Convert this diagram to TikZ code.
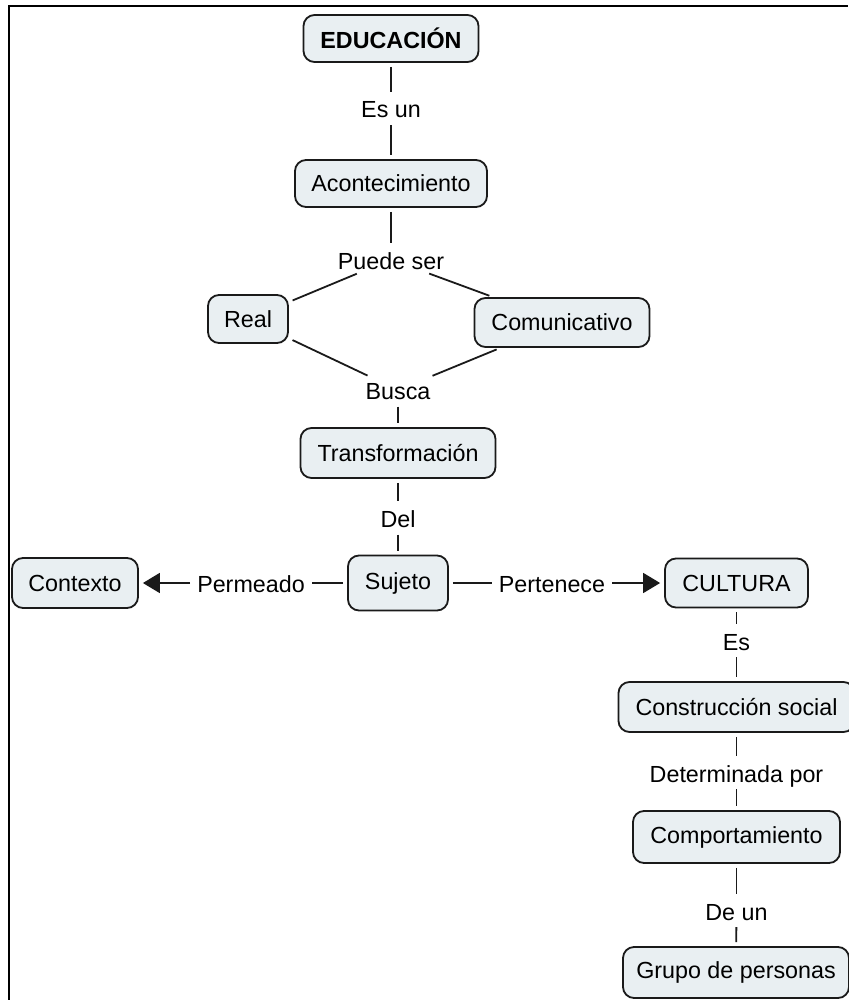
\documentclass[tikz,border=0pt]{standalone}
\usepackage{fontspec}
\setmainfont{Liberation Sans}
\usetikzlibrary{arrows.meta}
\definecolor{boxfill}{HTML}{E9EFF2}
\definecolor{boxline}{HTML}{1A1A1A}
\begin{document}
\begin{tikzpicture}[x=1pt,y=-1pt,
  concept/.style={draw=boxline, line width=1.8pt, fill=boxfill, rounded corners=11pt,
    inner sep=0pt, font=\fontsize{23.3}{28}\selectfont, anchor=center},
  linkl/.style={inner xsep=3pt, inner ysep=2pt, font=\fontsize{23.3}{28}\selectfont,
    text height=20pt, text depth=1pt, anchor=center},
  conn/.style={draw=boxline, line width=1.8pt, shorten <=4pt, shorten >=4pt},
  arr/.style={conn, -{Triangle[length=17pt,width=20pt]}}
]
\useasboundingbox (0,0) rectangle (848,1000);
\draw[line width=2pt] (9,1000) -- (9,6) -- (848,6);

% concepts
\node[concept, minimum width=175pt, minimum height=47pt] (edu) at (391,38.5) {\bfseries EDUCACIÓN};
\node[concept, minimum width=192pt, minimum height=47pt] (acon) at (391,183.5) {Acontecimiento};
\node[concept, minimum width=80pt, minimum height=48pt] (real) at (248,319) {Real};
\node[concept, minimum width=175pt, minimum height=49pt] (comu) at (562,322.5) {Comunicativo};
\node[concept, minimum width=195pt, minimum height=50pt] (trans) at (398,453) {Transformación};
\node[concept, minimum width=100pt, minimum height=55pt] (suj) at (398,583) {Sujeto};
\node[concept, minimum width=126pt, minimum height=50pt] (ctx) at (75,583) {Contexto};
\node[concept, minimum width=143pt, minimum height=49pt] (cult) at (736.5,583) {CULTURA};
\node[concept, minimum width=236pt, minimum height=50pt] (cons) at (736.5,707) {Construcción social};
\node[concept, minimum width=207pt, minimum height=52pt] (comp) at (736.5,837) {Comportamiento};
\node[concept, minimum width=226pt, minimum height=51pt] (grupo) at (736,972.5) {Grupo de personas};

% linking phrases
\node[linkl] (esun) at (391,108.5) {Es un};
\node[linkl] (puede) at (391,259.5) {Puede ser};
\node[linkl] (busca) at (398,390) {Busca};
\node[linkl] (del) at (398,518) {Del};
\node[linkl] (perm) at (251,583) {Permeado};
\node[linkl] (pert) at (552,583) {Pertenece};
\node[linkl] (es) at (736.5,640.5) {Es};
\node[linkl] (det) at (736.5,772.5) {Determinada por};
\node[linkl] (deun) at (736.5,910.5) {De un};

% connectors
\draw[conn] (edu) -- (esun);
\draw[conn] (esun) -- (acon);
\draw[conn] (acon) -- (puede);
\draw[conn] (puede) -- (real);
\draw[conn] (puede) -- (comu);
\draw[conn] (real) -- (busca);
\draw[conn] (comu) -- (busca);
\draw[conn] (busca) -- (trans);
\draw[conn] (trans) -- (del);
\draw[conn] (del) -- (suj);
\draw[conn] (suj) -- (perm);
\draw[arr] (perm) -- (ctx);
\draw[conn] (suj) -- (pert);
\draw[arr] (pert) -- (cult);
\draw[conn] (cult) -- (es);
\draw[conn] (es) -- (cons);
\draw[conn] (cons) -- (det);
\draw[conn] (det) -- (comp);
\draw[conn] (comp) -- (deun);
\draw[conn] (deun) -- (grupo);
\end{tikzpicture}
\end{document}
